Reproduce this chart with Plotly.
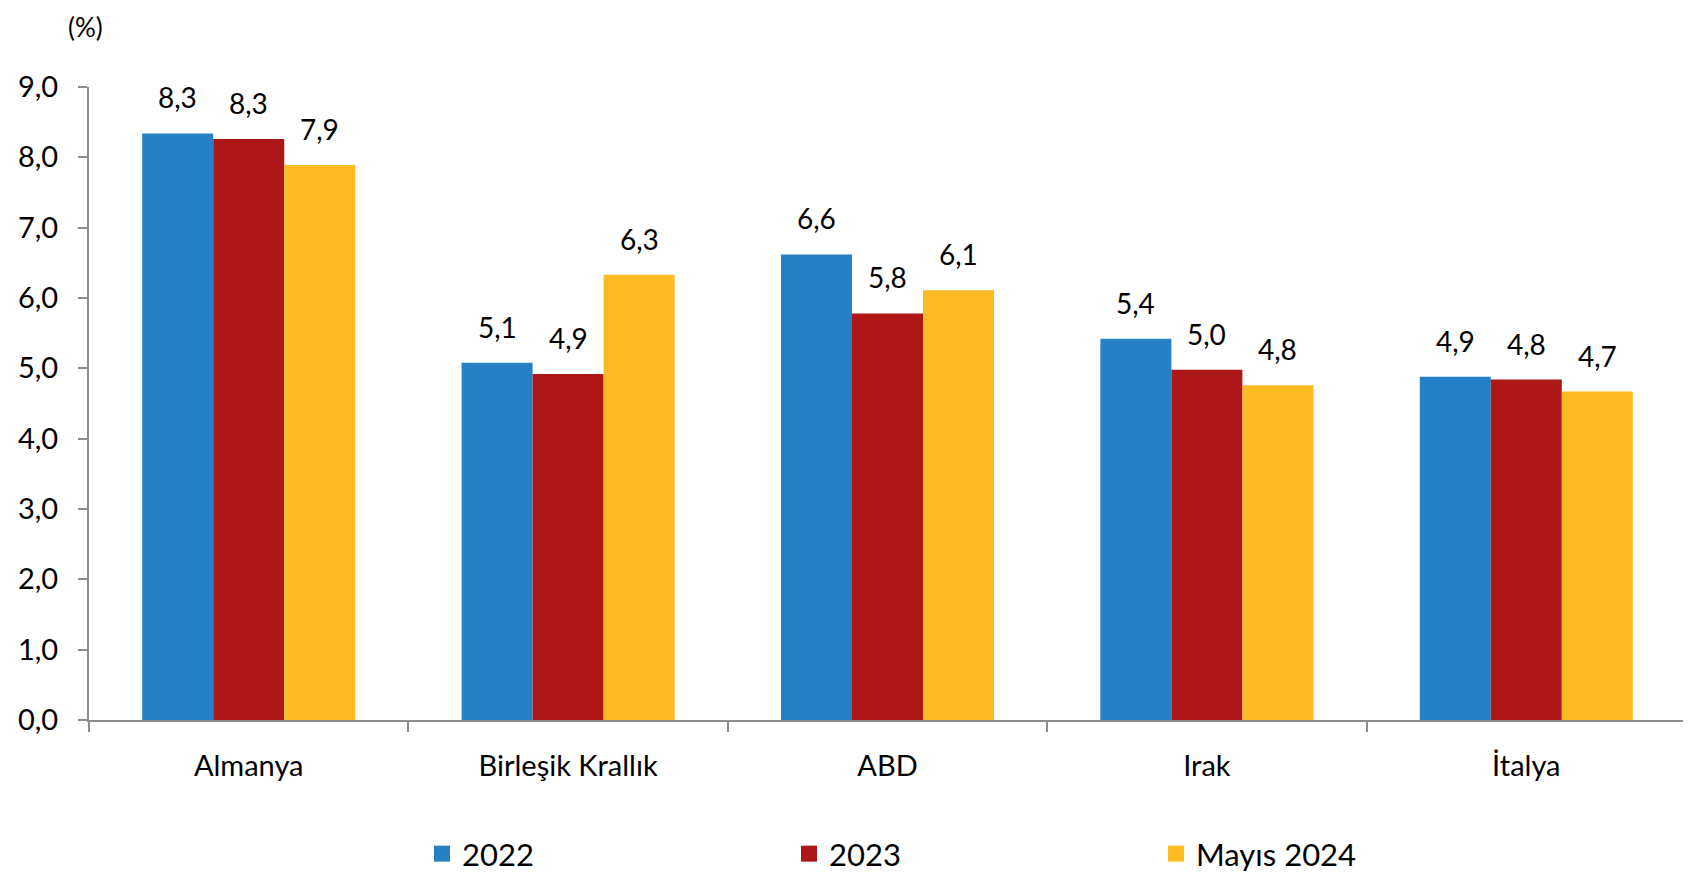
import plotly.graph_objects as go

categories = ["Almanya", "Birleşik Krallık", "ABD", "Irak", "İtalya"]
series_names = ["2022", "2023", "Mayıs 2024"]
v2022 = [8.34, 5.08, 6.62, 5.42, 4.88]
v2023 = [8.26, 4.92, 5.78, 4.98, 4.84]
v2024 = [7.89, 6.33, 6.11, 4.76, 4.67]
y_ticks = [0, 1, 2, 3, 4, 5, 6, 7, 8, 9]
unit_label = "(%)"

colors = ["#2680C5", "#AE1718", "#FCBA23"]
FONT = "Lato, Carlito, Calibri, sans-serif"

# page body has an 8px margin, so the figure is drawn 8px in from the window corner
OFF = 8
W, H = 1691 - OFF, 875 - OFF
ML, MR, MT, MB = 89 - OFF, 5, 87 - OFF, H - (720 - OFF)
BARGAP = 0.333

def fmt(v):
    return f"{v:.1f}".replace(".", ",")

fig = go.Figure()
all_series = [v2022, v2023, v2024]
for name, vals, col in zip(series_names, all_series, colors):
    fig.add_trace(go.Bar(
        x=categories, y=vals, name=name, showlegend=False,
        marker=dict(color=col, line=dict(width=0)),
        hoverinfo="skip",
    ))
    # legend proxy
    fig.add_trace(go.Scatter(
        x=[None], y=[None], mode="markers", name=name,
        marker=dict(symbol="square", size=21, color=col),
        showlegend=True,
    ))

plot_w = W - ML - MR
plot_h = H - MT - MB
bw = plot_w / len(categories) * (1 - BARGAP) / 3
for i, vals in enumerate(all_series):
    for c, v in zip(categories, vals):
        fig.add_annotation(
            x=c, y=v, xref="x", yref="y", text=fmt(v),
            showarrow=False, xanchor="center", yanchor="bottom",
            xshift=(i - 1) * bw, yshift=17,
            font=dict(family=FONT, size=28, color="#000000"),
        )

fig.add_annotation(
    x=(85 - OFF - ML) / plot_w, y=1 + (MT - 1) / plot_h,
    xref="paper", yref="paper", text=unit_label,
    showarrow=False, xanchor="center", yanchor="top",
    font=dict(family=FONT, size=26, color="#000000"),
)

fig.update_layout(
    width=W, height=H,
    margin=dict(l=ML, r=MR, t=MT, b=MB, pad=0, autoexpand=False),
    paper_bgcolor="white", plot_bgcolor="white",
    barmode="group", bargap=BARGAP, bargroupgap=0,
    font=dict(family=FONT, size=28, color="#000000"),
    legend=dict(
        orientation="h",
        xref="container", x=414 / W, xanchor="left",
        yref="container", y=1 - (854 - OFF) / H, yanchor="middle",
        entrywidth=322, entrywidthmode="pixels",
        font=dict(family=FONT, size=31, color="#000000"),
        itemclick=False, bgcolor="rgba(0,0,0,0)",
    ),
    showlegend=True,
)
fig.update_xaxes(
    automargin=False,
    showline=True, linecolor="#8C8C8C", linewidth=2,
    ticks="outside", tickson="boundaries", ticklen=10, tickwidth=2, tickcolor="#8C8C8C",
    showgrid=False, tickfont=dict(family=FONT, size=29, color="#000000"),
    ticklabelstandoff=19,
)
fig.update_yaxes(
    automargin=False,
    range=[0, 9], tickvals=y_ticks, ticktext=[fmt(t) for t in y_ticks],
    showline=True, linecolor="#8C8C8C", linewidth=2,
    ticks="outside", ticklen=9, tickwidth=2, tickcolor="#8C8C8C",
    showgrid=False, zeroline=False,
    tickfont=dict(family=FONT, size=29, color="#000000"),
    ticklabelstandoff=14,
)

fig.write_html("out.html")
